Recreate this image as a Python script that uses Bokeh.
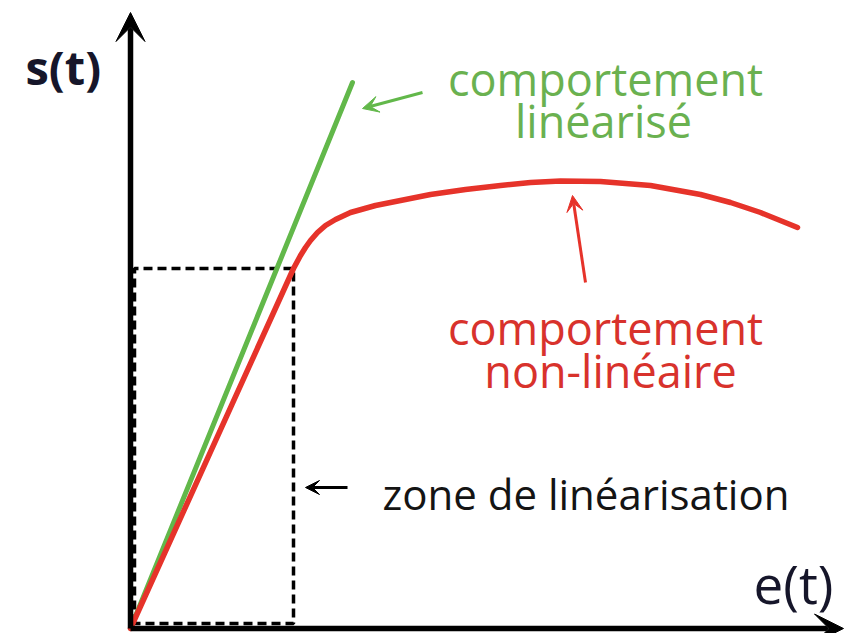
from bokeh.plotting import figure
from bokeh.models import Range1d, Arrow, VeeHead, ColumnDataSource
from bokeh.core.properties import value
from bokeh.embed import file_html
from bokeh.resources import INLINE

# ---- data (diagram units, origin at the axes crossing) ----
lin_e = [0, 222]
lin_s = [0, 546]

nl_e = [0, 163, 170, 175, 180, 187, 195, 205, 220, 245, 270, 300, 335, 370, 400, 430, 470, 520, 570, 600, 630, 667]
nl_s = [0, 360, 373, 381, 388, 396, 403, 409, 416, 423, 428, 434, 439, 443, 446, 447.5, 447, 443, 434, 426, 416, 401]

zone_e = [4, 4, 163, 163, 4]
zone_s = [5, 360, 360, 5, 5]

axis_x_end = [713, 0]
axis_y_end = [0, 616]

# annotation arrows: (x_start, y_start, x_end, y_end)
arrow_green = [292, 536, 232, 520]
arrow_red = [455, 346, 442, 433]
arrow_black = [217, 141, 175, 141]

label_text = ["comportement", "linéarisé", "comportement", "non-linéaire"]
label_x = [475, 473, 475, 480]
label_y = [550, 508, 301, 258]
label_color = ["#6ab150", "#6ab150", "#d8322c", "#d8322c"]

zone_label = ["zone de linéarisation"]
zone_label_x = [252]
zone_label_y = [135]

axis_labels = ["s(t)", "e(t)"]
axis_label_x = [-105, 623]
axis_label_y = [562, 45]

GREEN = "#62b84a"
RED = "#e6332a"

p = figure(width=845, height=633, output_backend="svg", toolbar_location=None,
           x_range=Range1d(-130, 715), y_range=Range1d(-5, 628), min_border=0)
p.axis.visible = False
p.grid.visible = False
p.outline_line_color = None
p.background_fill_color = "white"

# dashed linearisation zone
p.line(zone_e, zone_s, line_color="black", line_width=3.5, line_dash="9 5")

# curves
p.line(lin_e, lin_s, line_color=GREEN, line_width=5, line_cap="round")
p.line(nl_e, nl_s, line_color=RED, line_width=5.5, line_join="round", line_cap="round")

# axes
for xe, ye in zip(axis_x_end, axis_y_end):
    p.add_layout(Arrow(end=VeeHead(size=29, fill_color="black", line_color="black"),
                       x_start=0, y_start=0, x_end=xe, y_end=ye,
                       line_color="black", line_width=5.5))

# annotation arrows
for arr, col, sz in [(arrow_green, GREEN, 16), (arrow_red, RED, 16), (arrow_black, "black", 14)]:
    p.add_layout(Arrow(end=VeeHead(size=sz, fill_color=col, line_color=col),
                       x_start=arr[0], y_start=arr[1], x_end=arr[2], y_end=arr[3],
                       line_color=col, line_width=3))

src = ColumnDataSource(dict(x=label_x, y=label_y, t=label_text, c=label_color))
p.text(x="x", y="y", text="t", source=src, text_color="c", text_align="center",
       text_baseline="alphabetic", text_font=value("Open Sans"), text_font_size="45px")

p.text(x=zone_label_x, y=zone_label_y, text=zone_label, text_color="#141414",
       text_align="left", text_baseline="alphabetic", text_font=value("Open Sans"),
       text_font_size="42px")

p.text(x=axis_label_x[:1], y=axis_label_y[:1], text=axis_labels[:1], text_color="#16162a",
       text_align="left", text_baseline="alphabetic", text_font=value("Open Sans"),
       text_font_size="47px", text_font_style="bold")
p.text(x=axis_label_x[1:], y=axis_label_y[1:], text=axis_labels[1:], text_color="#16162a",
       text_align="left", text_baseline="alphabetic", text_font=value("Open Sans"),
       text_font_size="53px")

open("out.html", "w").write(file_html(p, INLINE))
